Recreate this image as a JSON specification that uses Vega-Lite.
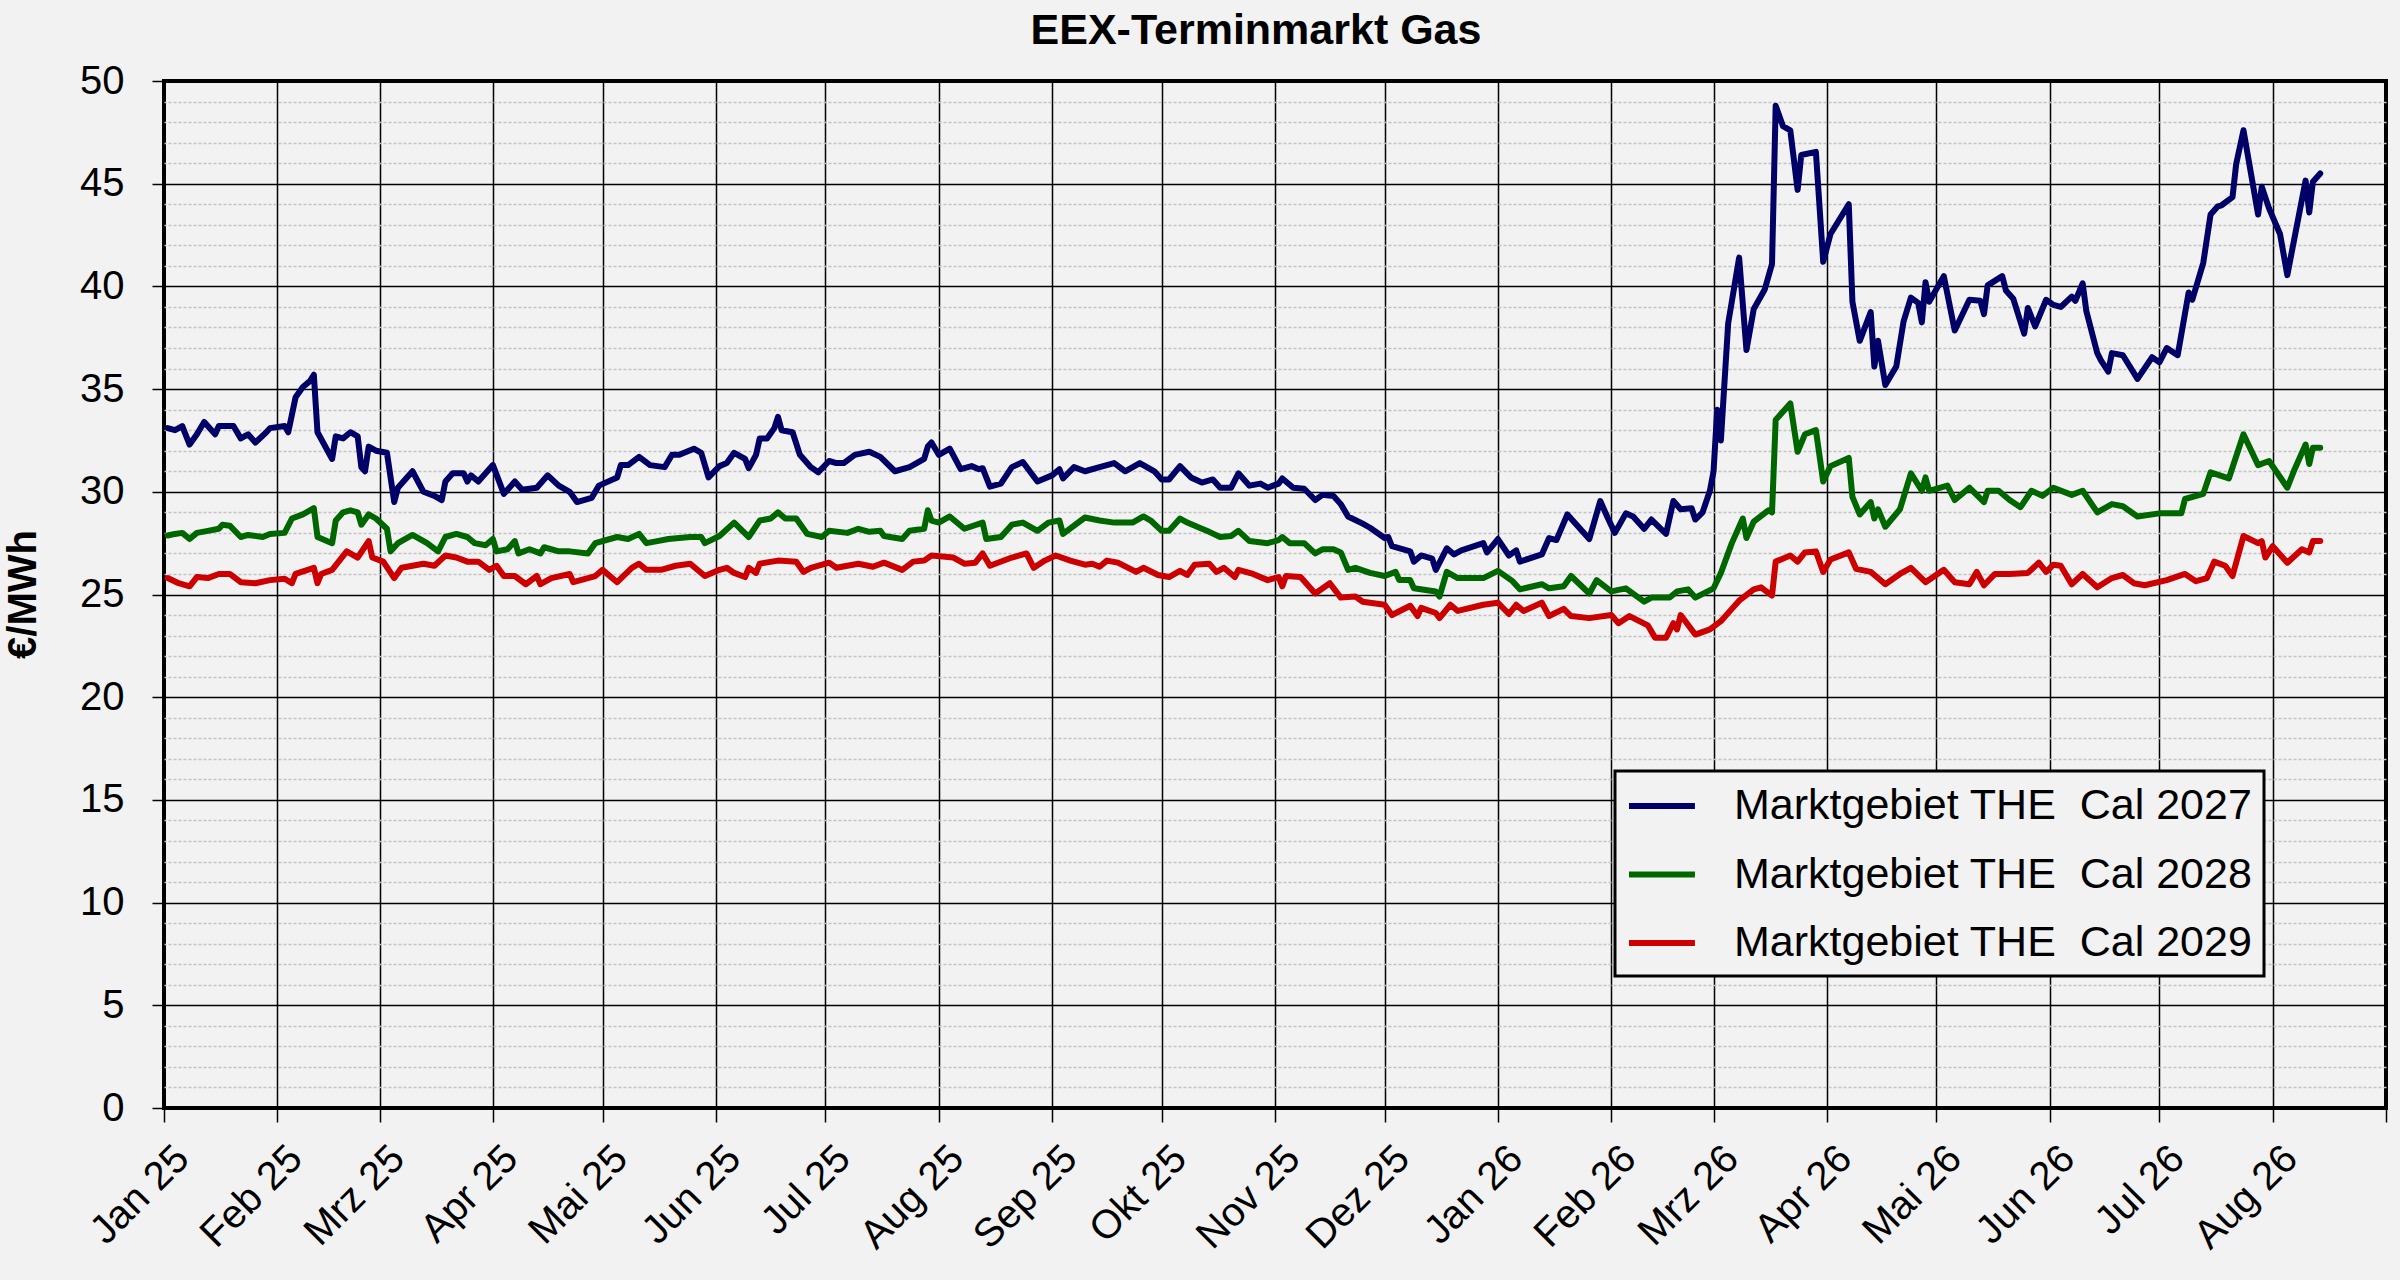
{
  "$schema": "https://vega.github.io/schema/vega-lite/v6.json",
  "width": 2222,
  "height": 1027,
  "autosize": {"type": "none"},
  "padding": {"left": 164, "top": 81, "right": 14, "bottom": 172},
  "background": "#f2f2f2",
  "title": {"text": "EEX-Terminmarkt Gas", "fontSize": 43, "fontWeight": "bold", "color": "black", "anchor": "middle", "frame": "group", "offset": -26, "baseline": "alphabetic", "dx": -19},
  "data": {"values": [
    {"datum":"2025-01-02","kontrakt":"2027","preis":33.1},{"datum":"2025-01-04","kontrakt":"2027","preis":33.0},{"datum":"2025-01-06","kontrakt":"2027","preis":33.2},{"datum":"2025-01-08","kontrakt":"2027","preis":32.3},{"datum":"2025-01-10","kontrakt":"2027","preis":32.8},{"datum":"2025-01-12","kontrakt":"2027","preis":33.4},{"datum":"2025-01-15","kontrakt":"2027","preis":32.8},{"datum":"2025-01-16","kontrakt":"2027","preis":33.2},{"datum":"2025-01-20","kontrakt":"2027","preis":33.2},{"datum":"2025-01-22","kontrakt":"2027","preis":32.6},{"datum":"2025-01-24","kontrakt":"2027","preis":32.8},{"datum":"2025-01-26","kontrakt":"2027","preis":32.4},{"datum":"2025-01-29","kontrakt":"2027","preis":32.9},{"datum":"2025-01-30","kontrakt":"2027","preis":33.1},
    {"datum":"2025-02-03","kontrakt":"2027","preis":33.2},{"datum":"2025-02-04","kontrakt":"2027","preis":32.9},{"datum":"2025-02-06","kontrakt":"2027","preis":34.6},{"datum":"2025-02-08","kontrakt":"2027","preis":35.1},{"datum":"2025-02-10","kontrakt":"2027","preis":35.4},{"datum":"2025-02-11","kontrakt":"2027","preis":35.7},{"datum":"2025-02-12","kontrakt":"2027","preis":32.9},{"datum":"2025-02-16","kontrakt":"2027","preis":31.6},{"datum":"2025-02-17","kontrakt":"2027","preis":32.7},{"datum":"2025-02-19","kontrakt":"2027","preis":32.6},{"datum":"2025-02-21","kontrakt":"2027","preis":32.9},{"datum":"2025-02-23","kontrakt":"2027","preis":32.7},{"datum":"2025-02-24","kontrakt":"2027","preis":31.2},{"datum":"2025-02-25","kontrakt":"2027","preis":31.0},{"datum":"2025-02-26","kontrakt":"2027","preis":32.2},{"datum":"2025-02-28","kontrakt":"2027","preis":32.0},
    {"datum":"2025-03-03","kontrakt":"2027","preis":31.9},{"datum":"2025-03-05","kontrakt":"2027","preis":29.5},{"datum":"2025-03-06","kontrakt":"2027","preis":30.2},{"datum":"2025-03-10","kontrakt":"2027","preis":31.0},{"datum":"2025-03-13","kontrakt":"2027","preis":30.0},{"datum":"2025-03-16","kontrakt":"2027","preis":29.8},{"datum":"2025-03-18","kontrakt":"2027","preis":29.6},{"datum":"2025-03-19","kontrakt":"2027","preis":30.5},{"datum":"2025-03-21","kontrakt":"2027","preis":30.9},{"datum":"2025-03-24","kontrakt":"2027","preis":30.9},{"datum":"2025-03-25","kontrakt":"2027","preis":30.5},{"datum":"2025-03-26","kontrakt":"2027","preis":30.8},{"datum":"2025-03-28","kontrakt":"2027","preis":30.5},
    {"datum":"2025-04-01","kontrakt":"2027","preis":31.3},{"datum":"2025-04-04","kontrakt":"2027","preis":29.9},{"datum":"2025-04-07","kontrakt":"2027","preis":30.5},{"datum":"2025-04-09","kontrakt":"2027","preis":30.1},{"datum":"2025-04-13","kontrakt":"2027","preis":30.2},{"datum":"2025-04-16","kontrakt":"2027","preis":30.8},{"datum":"2025-04-19","kontrakt":"2027","preis":30.3},{"datum":"2025-04-22","kontrakt":"2027","preis":30.0},{"datum":"2025-04-24","kontrakt":"2027","preis":29.5},{"datum":"2025-04-28","kontrakt":"2027","preis":29.7},{"datum":"2025-04-30","kontrakt":"2027","preis":30.3},
    {"datum":"2025-05-05","kontrakt":"2027","preis":30.7},{"datum":"2025-05-06","kontrakt":"2027","preis":31.3},{"datum":"2025-05-08","kontrakt":"2027","preis":31.3},{"datum":"2025-05-11","kontrakt":"2027","preis":31.7},{"datum":"2025-05-14","kontrakt":"2027","preis":31.3},{"datum":"2025-05-18","kontrakt":"2027","preis":31.2},{"datum":"2025-05-20","kontrakt":"2027","preis":31.8},{"datum":"2025-05-22","kontrakt":"2027","preis":31.8},{"datum":"2025-05-26","kontrakt":"2027","preis":32.1},{"datum":"2025-05-28","kontrakt":"2027","preis":31.9},{"datum":"2025-05-30","kontrakt":"2027","preis":30.7},
    {"datum":"2025-06-02","kontrakt":"2027","preis":31.25},{"datum":"2025-06-04","kontrakt":"2027","preis":31.4},{"datum":"2025-06-06","kontrakt":"2027","preis":31.9},{"datum":"2025-06-09","kontrakt":"2027","preis":31.6},{"datum":"2025-06-10","kontrakt":"2027","preis":31.15},{"datum":"2025-06-12","kontrakt":"2027","preis":31.8},{"datum":"2025-06-13","kontrakt":"2027","preis":32.6},{"datum":"2025-06-15","kontrakt":"2027","preis":32.6},{"datum":"2025-06-17","kontrakt":"2027","preis":33.1},{"datum":"2025-06-18","kontrakt":"2027","preis":33.65},{"datum":"2025-06-19","kontrakt":"2027","preis":33.0},{"datum":"2025-06-22","kontrakt":"2027","preis":32.9},{"datum":"2025-06-24","kontrakt":"2027","preis":31.8},{"datum":"2025-06-27","kontrakt":"2027","preis":31.2},{"datum":"2025-06-29","kontrakt":"2027","preis":30.95},
    {"datum":"2025-07-02","kontrakt":"2027","preis":31.5},{"datum":"2025-07-04","kontrakt":"2027","preis":31.4},{"datum":"2025-07-06","kontrakt":"2027","preis":31.4},{"datum":"2025-07-09","kontrakt":"2027","preis":31.8},{"datum":"2025-07-13","kontrakt":"2027","preis":31.95},{"datum":"2025-07-16","kontrakt":"2027","preis":31.7},{"datum":"2025-07-20","kontrakt":"2027","preis":31.0},{"datum":"2025-07-24","kontrakt":"2027","preis":31.2},{"datum":"2025-07-28","kontrakt":"2027","preis":31.6},{"datum":"2025-07-29","kontrakt":"2027","preis":32.2},{"datum":"2025-07-30","kontrakt":"2027","preis":32.4},
    {"datum":"2025-08-01","kontrakt":"2027","preis":31.8},{"datum":"2025-08-04","kontrakt":"2027","preis":32.1},{"datum":"2025-08-07","kontrakt":"2027","preis":31.1},{"datum":"2025-08-10","kontrakt":"2027","preis":31.25},{"datum":"2025-08-12","kontrakt":"2027","preis":31.1},{"datum":"2025-08-13","kontrakt":"2027","preis":31.15},{"datum":"2025-08-15","kontrakt":"2027","preis":30.25},{"datum":"2025-08-18","kontrakt":"2027","preis":30.4},{"datum":"2025-08-21","kontrakt":"2027","preis":31.2},{"datum":"2025-08-24","kontrakt":"2027","preis":31.45},{"datum":"2025-08-28","kontrakt":"2027","preis":30.5},
    {"datum":"2025-09-01","kontrakt":"2027","preis":30.8},{"datum":"2025-09-03","kontrakt":"2027","preis":31.1},{"datum":"2025-09-04","kontrakt":"2027","preis":30.65},{"datum":"2025-09-07","kontrakt":"2027","preis":31.2},{"datum":"2025-09-10","kontrakt":"2027","preis":31.0},{"datum":"2025-09-14","kontrakt":"2027","preis":31.2},{"datum":"2025-09-18","kontrakt":"2027","preis":31.4},{"datum":"2025-09-21","kontrakt":"2027","preis":31.0},{"datum":"2025-09-25","kontrakt":"2027","preis":31.4},{"datum":"2025-09-29","kontrakt":"2027","preis":31.0},
    {"datum":"2025-10-01","kontrakt":"2027","preis":30.6},{"datum":"2025-10-03","kontrakt":"2027","preis":30.6},{"datum":"2025-10-06","kontrakt":"2027","preis":31.25},{"datum":"2025-10-09","kontrakt":"2027","preis":30.7},{"datum":"2025-10-12","kontrakt":"2027","preis":30.45},{"datum":"2025-10-15","kontrakt":"2027","preis":30.6},{"datum":"2025-10-17","kontrakt":"2027","preis":30.2},{"datum":"2025-10-20","kontrakt":"2027","preis":30.2},{"datum":"2025-10-22","kontrakt":"2027","preis":30.9},{"datum":"2025-10-25","kontrakt":"2027","preis":30.3},{"datum":"2025-10-28","kontrakt":"2027","preis":30.4},{"datum":"2025-10-30","kontrakt":"2027","preis":30.2},
    {"datum":"2025-11-02","kontrakt":"2027","preis":30.4},{"datum":"2025-11-03","kontrakt":"2027","preis":30.65},{"datum":"2025-11-06","kontrakt":"2027","preis":30.2},{"datum":"2025-11-09","kontrakt":"2027","preis":30.15},{"datum":"2025-11-12","kontrakt":"2027","preis":29.6},{"datum":"2025-11-14","kontrakt":"2027","preis":29.85},{"datum":"2025-11-17","kontrakt":"2027","preis":29.8},{"datum":"2025-11-19","kontrakt":"2027","preis":29.4},{"datum":"2025-11-21","kontrakt":"2027","preis":28.8},{"datum":"2025-11-25","kontrakt":"2027","preis":28.45},{"datum":"2025-11-27","kontrakt":"2027","preis":28.25},
    {"datum":"2025-12-01","kontrakt":"2027","preis":27.75},{"datum":"2025-12-02","kontrakt":"2027","preis":27.8},{"datum":"2025-12-03","kontrakt":"2027","preis":27.35},{"datum":"2025-12-08","kontrakt":"2027","preis":27.1},{"datum":"2025-12-09","kontrakt":"2027","preis":26.6},{"datum":"2025-12-11","kontrakt":"2027","preis":26.9},{"datum":"2025-12-14","kontrakt":"2027","preis":26.75},{"datum":"2025-12-15","kontrakt":"2027","preis":26.2},{"datum":"2025-12-18","kontrakt":"2027","preis":27.25},{"datum":"2025-12-20","kontrakt":"2027","preis":26.95},{"datum":"2025-12-22","kontrakt":"2027","preis":27.15},{"datum":"2025-12-28","kontrakt":"2027","preis":27.5},{"datum":"2025-12-29","kontrakt":"2027","preis":27.05},
    {"datum":"2026-01-01","kontrakt":"2027","preis":27.7},{"datum":"2026-01-04","kontrakt":"2027","preis":26.9},{"datum":"2026-01-06","kontrakt":"2027","preis":27.15},{"datum":"2026-01-07","kontrakt":"2027","preis":26.6},{"datum":"2026-01-13","kontrakt":"2027","preis":26.95},{"datum":"2026-01-15","kontrakt":"2027","preis":27.75},{"datum":"2026-01-17","kontrakt":"2027","preis":27.65},{"datum":"2026-01-20","kontrakt":"2027","preis":28.9},{"datum":"2026-01-26","kontrakt":"2027","preis":27.7},{"datum":"2026-01-29","kontrakt":"2027","preis":29.55},{"datum":"2026-01-31","kontrakt":"2027","preis":28.75},
    {"datum":"2026-02-02","kontrakt":"2027","preis":28.0},{"datum":"2026-02-05","kontrakt":"2027","preis":28.95},{"datum":"2026-02-07","kontrakt":"2027","preis":28.8},{"datum":"2026-02-10","kontrakt":"2027","preis":28.2},{"datum":"2026-02-12","kontrakt":"2027","preis":28.65},{"datum":"2026-02-16","kontrakt":"2027","preis":27.95},{"datum":"2026-02-18","kontrakt":"2027","preis":29.55},{"datum":"2026-02-20","kontrakt":"2027","preis":29.15},{"datum":"2026-02-23","kontrakt":"2027","preis":29.2},{"datum":"2026-02-24","kontrakt":"2027","preis":28.65},{"datum":"2026-02-26","kontrakt":"2027","preis":29.0},{"datum":"2026-02-28","kontrakt":"2027","preis":30.05},
    {"datum":"2026-03-01","kontrakt":"2027","preis":31.0},{"datum":"2026-03-02","kontrakt":"2027","preis":34.0},{"datum":"2026-03-03","kontrakt":"2027","preis":32.5},{"datum":"2026-03-05","kontrakt":"2027","preis":38.2},{"datum":"2026-03-08","kontrakt":"2027","preis":41.4},{"datum":"2026-03-10","kontrakt":"2027","preis":36.9},{"datum":"2026-03-12","kontrakt":"2027","preis":38.9},{"datum":"2026-03-15","kontrakt":"2027","preis":39.85},{"datum":"2026-03-17","kontrakt":"2027","preis":41.1},{"datum":"2026-03-18","kontrakt":"2027","preis":48.8},{"datum":"2026-03-20","kontrakt":"2027","preis":47.8},{"datum":"2026-03-22","kontrakt":"2027","preis":47.6},{"datum":"2026-03-24","kontrakt":"2027","preis":44.7},{"datum":"2026-03-25","kontrakt":"2027","preis":46.4},{"datum":"2026-03-29","kontrakt":"2027","preis":46.55},{"datum":"2026-03-31","kontrakt":"2027","preis":41.2},
    {"datum":"2026-04-02","kontrakt":"2027","preis":42.55},{"datum":"2026-04-07","kontrakt":"2027","preis":44.0},{"datum":"2026-04-08","kontrakt":"2027","preis":39.25},{"datum":"2026-04-10","kontrakt":"2027","preis":37.35},{"datum":"2026-04-13","kontrakt":"2027","preis":38.75},{"datum":"2026-04-14","kontrakt":"2027","preis":36.1},{"datum":"2026-04-15","kontrakt":"2027","preis":37.35},{"datum":"2026-04-17","kontrakt":"2027","preis":35.2},{"datum":"2026-04-20","kontrakt":"2027","preis":36.1},{"datum":"2026-04-22","kontrakt":"2027","preis":38.3},{"datum":"2026-04-24","kontrakt":"2027","preis":39.45},{"datum":"2026-04-26","kontrakt":"2027","preis":39.2},{"datum":"2026-04-27","kontrakt":"2027","preis":38.25},{"datum":"2026-04-28","kontrakt":"2027","preis":40.2},{"datum":"2026-04-29","kontrakt":"2027","preis":39.25},
    {"datum":"2026-05-03","kontrakt":"2027","preis":40.5},{"datum":"2026-05-06","kontrakt":"2027","preis":37.85},{"datum":"2026-05-10","kontrakt":"2027","preis":39.35},{"datum":"2026-05-13","kontrakt":"2027","preis":39.3},{"datum":"2026-05-14","kontrakt":"2027","preis":38.65},{"datum":"2026-05-15","kontrakt":"2027","preis":40.05},{"datum":"2026-05-19","kontrakt":"2027","preis":40.5},{"datum":"2026-05-20","kontrakt":"2027","preis":39.8},{"datum":"2026-05-22","kontrakt":"2027","preis":39.4},{"datum":"2026-05-25","kontrakt":"2027","preis":37.7},{"datum":"2026-05-26","kontrakt":"2027","preis":38.95},{"datum":"2026-05-28","kontrakt":"2027","preis":38.05},{"datum":"2026-05-31","kontrakt":"2027","preis":39.35},
    {"datum":"2026-06-02","kontrakt":"2027","preis":39.1},{"datum":"2026-06-04","kontrakt":"2027","preis":39.0},{"datum":"2026-06-07","kontrakt":"2027","preis":39.5},{"datum":"2026-06-08","kontrakt":"2027","preis":39.3},{"datum":"2026-06-10","kontrakt":"2027","preis":40.15},{"datum":"2026-06-11","kontrakt":"2027","preis":38.8},{"datum":"2026-06-14","kontrakt":"2027","preis":36.75},{"datum":"2026-06-15","kontrakt":"2027","preis":36.4},{"datum":"2026-06-17","kontrakt":"2027","preis":35.85},{"datum":"2026-06-18","kontrakt":"2027","preis":36.75},{"datum":"2026-06-21","kontrakt":"2027","preis":36.65},{"datum":"2026-06-25","kontrakt":"2027","preis":35.5},{"datum":"2026-06-29","kontrakt":"2027","preis":36.55},
    {"datum":"2026-07-01","kontrakt":"2027","preis":36.3},{"datum":"2026-07-03","kontrakt":"2027","preis":37.0},{"datum":"2026-07-06","kontrakt":"2027","preis":36.65},{"datum":"2026-07-09","kontrakt":"2027","preis":39.7},{"datum":"2026-07-10","kontrakt":"2027","preis":39.35},{"datum":"2026-07-13","kontrakt":"2027","preis":41.15},{"datum":"2026-07-15","kontrakt":"2027","preis":43.5},{"datum":"2026-07-17","kontrakt":"2027","preis":43.9},{"datum":"2026-07-18","kontrakt":"2027","preis":43.95},{"datum":"2026-07-21","kontrakt":"2027","preis":44.35},{"datum":"2026-07-22","kontrakt":"2027","preis":45.95},{"datum":"2026-07-24","kontrakt":"2027","preis":47.6},{"datum":"2026-07-28","kontrakt":"2027","preis":43.5},{"datum":"2026-07-29","kontrakt":"2027","preis":44.85},{"datum":"2026-07-31","kontrakt":"2027","preis":43.8},
    {"datum":"2026-08-03","kontrakt":"2027","preis":42.55},{"datum":"2026-08-05","kontrakt":"2027","preis":40.55},{"datum":"2026-08-07","kontrakt":"2027","preis":42.4},{"datum":"2026-08-10","kontrakt":"2027","preis":45.15},{"datum":"2026-08-11","kontrakt":"2027","preis":43.6},{"datum":"2026-08-12","kontrakt":"2027","preis":45.1},{"datum":"2026-08-14","kontrakt":"2027","preis":45.5},

    {"datum":"2025-01-02","kontrakt":"2028","preis":27.87},{"datum":"2025-01-04","kontrakt":"2028","preis":27.95},{"datum":"2025-01-06","kontrakt":"2028","preis":28.0},{"datum":"2025-01-08","kontrakt":"2028","preis":27.7},{"datum":"2025-01-10","kontrakt":"2028","preis":28.0},{"datum":"2025-01-13","kontrakt":"2028","preis":28.1},{"datum":"2025-01-16","kontrakt":"2028","preis":28.2},{"datum":"2025-01-17","kontrakt":"2028","preis":28.4},{"datum":"2025-01-19","kontrakt":"2028","preis":28.35},{"datum":"2025-01-22","kontrakt":"2028","preis":27.8},{"datum":"2025-01-24","kontrakt":"2028","preis":27.9},{"datum":"2025-01-28","kontrakt":"2028","preis":27.8},{"datum":"2025-01-30","kontrakt":"2028","preis":27.95},
    {"datum":"2025-02-03","kontrakt":"2028","preis":28.0},{"datum":"2025-02-05","kontrakt":"2028","preis":28.7},{"datum":"2025-02-08","kontrakt":"2028","preis":28.9},{"datum":"2025-02-11","kontrakt":"2028","preis":29.2},{"datum":"2025-02-12","kontrakt":"2028","preis":27.8},{"datum":"2025-02-16","kontrakt":"2028","preis":27.5},{"datum":"2025-02-17","kontrakt":"2028","preis":28.6},{"datum":"2025-02-19","kontrakt":"2028","preis":29.0},{"datum":"2025-02-21","kontrakt":"2028","preis":29.1},{"datum":"2025-02-23","kontrakt":"2028","preis":29.0},{"datum":"2025-02-24","kontrakt":"2028","preis":28.4},{"datum":"2025-02-26","kontrakt":"2028","preis":28.9},{"datum":"2025-02-28","kontrakt":"2028","preis":28.7},
    {"datum":"2025-03-03","kontrakt":"2028","preis":28.2},{"datum":"2025-03-04","kontrakt":"2028","preis":27.1},{"datum":"2025-03-06","kontrakt":"2028","preis":27.5},{"datum":"2025-03-10","kontrakt":"2028","preis":27.9},{"datum":"2025-03-14","kontrakt":"2028","preis":27.5},{"datum":"2025-03-17","kontrakt":"2028","preis":27.1},{"datum":"2025-03-19","kontrakt":"2028","preis":27.8},{"datum":"2025-03-22","kontrakt":"2028","preis":27.95},{"datum":"2025-03-25","kontrakt":"2028","preis":27.8},{"datum":"2025-03-27","kontrakt":"2028","preis":27.5},{"datum":"2025-03-30","kontrakt":"2028","preis":27.4},
    {"datum":"2025-04-01","kontrakt":"2028","preis":27.7},{"datum":"2025-04-02","kontrakt":"2028","preis":27.1},{"datum":"2025-04-05","kontrakt":"2028","preis":27.2},{"datum":"2025-04-07","kontrakt":"2028","preis":27.6},{"datum":"2025-04-08","kontrakt":"2028","preis":27.0},{"datum":"2025-04-11","kontrakt":"2028","preis":27.2},{"datum":"2025-04-14","kontrakt":"2028","preis":27.0},{"datum":"2025-04-15","kontrakt":"2028","preis":27.3},{"datum":"2025-04-19","kontrakt":"2028","preis":27.1},{"datum":"2025-04-22","kontrakt":"2028","preis":27.1},{"datum":"2025-04-27","kontrakt":"2028","preis":27.0},{"datum":"2025-04-29","kontrakt":"2028","preis":27.5},
    {"datum":"2025-05-05","kontrakt":"2028","preis":27.8},{"datum":"2025-05-08","kontrakt":"2028","preis":27.7},{"datum":"2025-05-11","kontrakt":"2028","preis":27.95},{"datum":"2025-05-13","kontrakt":"2028","preis":27.5},{"datum":"2025-05-16","kontrakt":"2028","preis":27.6},{"datum":"2025-05-19","kontrakt":"2028","preis":27.7},{"datum":"2025-05-25","kontrakt":"2028","preis":27.8},{"datum":"2025-05-28","kontrakt":"2028","preis":27.8},{"datum":"2025-05-29","kontrakt":"2028","preis":27.5},
    {"datum":"2025-06-02","kontrakt":"2028","preis":27.85},{"datum":"2025-06-06","kontrakt":"2028","preis":28.5},{"datum":"2025-06-10","kontrakt":"2028","preis":27.8},{"datum":"2025-06-13","kontrakt":"2028","preis":28.6},{"datum":"2025-06-16","kontrakt":"2028","preis":28.7},{"datum":"2025-06-18","kontrakt":"2028","preis":29.0},{"datum":"2025-06-20","kontrakt":"2028","preis":28.7},{"datum":"2025-06-23","kontrakt":"2028","preis":28.7},{"datum":"2025-06-26","kontrakt":"2028","preis":27.95},{"datum":"2025-06-30","kontrakt":"2028","preis":27.8},
    {"datum":"2025-07-02","kontrakt":"2028","preis":28.1},{"datum":"2025-07-07","kontrakt":"2028","preis":28.0},{"datum":"2025-07-10","kontrakt":"2028","preis":28.2},{"datum":"2025-07-13","kontrakt":"2028","preis":28.05},{"datum":"2025-07-16","kontrakt":"2028","preis":28.1},{"datum":"2025-07-17","kontrakt":"2028","preis":27.85},{"datum":"2025-07-22","kontrakt":"2028","preis":27.7},{"datum":"2025-07-24","kontrakt":"2028","preis":28.1},{"datum":"2025-07-28","kontrakt":"2028","preis":28.2},{"datum":"2025-07-29","kontrakt":"2028","preis":29.1},{"datum":"2025-07-30","kontrakt":"2028","preis":28.6},
    {"datum":"2025-08-01","kontrakt":"2028","preis":28.5},{"datum":"2025-08-04","kontrakt":"2028","preis":28.8},{"datum":"2025-08-08","kontrakt":"2028","preis":28.2},{"datum":"2025-08-13","kontrakt":"2028","preis":28.5},{"datum":"2025-08-14","kontrakt":"2028","preis":27.7},{"datum":"2025-08-18","kontrakt":"2028","preis":27.8},{"datum":"2025-08-21","kontrakt":"2028","preis":28.4},{"datum":"2025-08-24","kontrakt":"2028","preis":28.5},{"datum":"2025-08-28","kontrakt":"2028","preis":28.1},{"datum":"2025-08-31","kontrakt":"2028","preis":28.5},
    {"datum":"2025-09-03","kontrakt":"2028","preis":28.6},{"datum":"2025-09-04","kontrakt":"2028","preis":27.95},{"datum":"2025-09-10","kontrakt":"2028","preis":28.75},{"datum":"2025-09-14","kontrakt":"2028","preis":28.6},{"datum":"2025-09-18","kontrakt":"2028","preis":28.5},{"datum":"2025-09-23","kontrakt":"2028","preis":28.5},{"datum":"2025-09-26","kontrakt":"2028","preis":28.8},{"datum":"2025-09-28","kontrakt":"2028","preis":28.6},
    {"datum":"2025-10-01","kontrakt":"2028","preis":28.1},{"datum":"2025-10-03","kontrakt":"2028","preis":28.1},{"datum":"2025-10-06","kontrakt":"2028","preis":28.7},{"datum":"2025-10-08","kontrakt":"2028","preis":28.5},{"datum":"2025-10-12","kontrakt":"2028","preis":28.2},{"datum":"2025-10-14","kontrakt":"2028","preis":28.05},{"datum":"2025-10-17","kontrakt":"2028","preis":27.8},{"datum":"2025-10-20","kontrakt":"2028","preis":27.85},{"datum":"2025-10-22","kontrakt":"2028","preis":28.1},{"datum":"2025-10-25","kontrakt":"2028","preis":27.6},{"datum":"2025-10-30","kontrakt":"2028","preis":27.5},
    {"datum":"2025-11-02","kontrakt":"2028","preis":27.65},{"datum":"2025-11-03","kontrakt":"2028","preis":27.8},{"datum":"2025-11-05","kontrakt":"2028","preis":27.5},{"datum":"2025-11-09","kontrakt":"2028","preis":27.5},{"datum":"2025-11-12","kontrakt":"2028","preis":27.0},{"datum":"2025-11-14","kontrakt":"2028","preis":27.2},{"datum":"2025-11-17","kontrakt":"2028","preis":27.2},{"datum":"2025-11-19","kontrakt":"2028","preis":27.05},{"datum":"2025-11-21","kontrakt":"2028","preis":26.2},{"datum":"2025-11-23","kontrakt":"2028","preis":26.3},{"datum":"2025-11-27","kontrakt":"2028","preis":26.05},
    {"datum":"2025-12-01","kontrakt":"2028","preis":25.9},{"datum":"2025-12-04","kontrakt":"2028","preis":26.1},{"datum":"2025-12-05","kontrakt":"2028","preis":25.7},{"datum":"2025-12-08","kontrakt":"2028","preis":25.7},{"datum":"2025-12-09","kontrakt":"2028","preis":25.3},{"datum":"2025-12-15","kontrakt":"2028","preis":25.15},{"datum":"2025-12-16","kontrakt":"2028","preis":24.9},{"datum":"2025-12-18","kontrakt":"2028","preis":26.1},{"datum":"2025-12-21","kontrakt":"2028","preis":25.8},{"datum":"2025-12-28","kontrakt":"2028","preis":25.8},
    {"datum":"2026-01-01","kontrakt":"2028","preis":26.15},{"datum":"2026-01-05","kontrakt":"2028","preis":25.65},{"datum":"2026-01-07","kontrakt":"2028","preis":25.25},{"datum":"2026-01-13","kontrakt":"2028","preis":25.5},{"datum":"2026-01-15","kontrakt":"2028","preis":25.3},{"datum":"2026-01-19","kontrakt":"2028","preis":25.4},{"datum":"2026-01-21","kontrakt":"2028","preis":25.9},{"datum":"2026-01-26","kontrakt":"2028","preis":25.05},{"datum":"2026-01-28","kontrakt":"2028","preis":25.7},
    {"datum":"2026-02-01","kontrakt":"2028","preis":25.15},{"datum":"2026-02-05","kontrakt":"2028","preis":25.3},{"datum":"2026-02-10","kontrakt":"2028","preis":24.65},{"datum":"2026-02-12","kontrakt":"2028","preis":24.85},{"datum":"2026-02-17","kontrakt":"2028","preis":24.85},{"datum":"2026-02-19","kontrakt":"2028","preis":25.15},{"datum":"2026-02-22","kontrakt":"2028","preis":25.25},{"datum":"2026-02-24","kontrakt":"2028","preis":24.85},
    {"datum":"2026-03-01","kontrakt":"2028","preis":25.3},{"datum":"2026-03-03","kontrakt":"2028","preis":26.05},{"datum":"2026-03-06","kontrakt":"2028","preis":27.5},{"datum":"2026-03-09","kontrakt":"2028","preis":28.7},{"datum":"2026-03-10","kontrakt":"2028","preis":27.75},{"datum":"2026-03-12","kontrakt":"2028","preis":28.55},{"datum":"2026-03-16","kontrakt":"2028","preis":29.1},{"datum":"2026-03-17","kontrakt":"2028","preis":29.0},{"datum":"2026-03-18","kontrakt":"2028","preis":33.5},{"datum":"2026-03-22","kontrakt":"2028","preis":34.3},{"datum":"2026-03-24","kontrakt":"2028","preis":31.95},{"datum":"2026-03-26","kontrakt":"2028","preis":32.8},{"datum":"2026-03-29","kontrakt":"2028","preis":33.0},{"datum":"2026-03-31","kontrakt":"2028","preis":30.5},
    {"datum":"2026-04-02","kontrakt":"2028","preis":31.25},{"datum":"2026-04-07","kontrakt":"2028","preis":31.65},{"datum":"2026-04-08","kontrakt":"2028","preis":29.75},{"datum":"2026-04-10","kontrakt":"2028","preis":28.9},{"datum":"2026-04-13","kontrakt":"2028","preis":29.5},{"datum":"2026-04-14","kontrakt":"2028","preis":28.7},{"datum":"2026-04-15","kontrakt":"2028","preis":29.15},{"datum":"2026-04-17","kontrakt":"2028","preis":28.3},{"datum":"2026-04-21","kontrakt":"2028","preis":29.15},{"datum":"2026-04-24","kontrakt":"2028","preis":30.9},{"datum":"2026-04-27","kontrakt":"2028","preis":30.05},{"datum":"2026-04-28","kontrakt":"2028","preis":30.7},{"datum":"2026-04-29","kontrakt":"2028","preis":30.05},
    {"datum":"2026-05-04","kontrakt":"2028","preis":30.3},{"datum":"2026-05-06","kontrakt":"2028","preis":29.6},{"datum":"2026-05-10","kontrakt":"2028","preis":30.2},{"datum":"2026-05-14","kontrakt":"2028","preis":29.5},{"datum":"2026-05-15","kontrakt":"2028","preis":30.05},{"datum":"2026-05-18","kontrakt":"2028","preis":30.05},{"datum":"2026-05-21","kontrakt":"2028","preis":29.6},{"datum":"2026-05-24","kontrakt":"2028","preis":29.25},{"datum":"2026-05-27","kontrakt":"2028","preis":30.05},{"datum":"2026-05-30","kontrakt":"2028","preis":29.8},
    {"datum":"2026-06-02","kontrakt":"2028","preis":30.2},{"datum":"2026-06-07","kontrakt":"2028","preis":29.85},{"datum":"2026-06-10","kontrakt":"2028","preis":30.05},{"datum":"2026-06-14","kontrakt":"2028","preis":29.0},{"datum":"2026-06-18","kontrakt":"2028","preis":29.4},{"datum":"2026-06-21","kontrakt":"2028","preis":29.3},{"datum":"2026-06-25","kontrakt":"2028","preis":28.8},
    {"datum":"2026-07-01","kontrakt":"2028","preis":28.95},{"datum":"2026-07-07","kontrakt":"2028","preis":28.95},{"datum":"2026-07-08","kontrakt":"2028","preis":29.65},{"datum":"2026-07-13","kontrakt":"2028","preis":29.9},{"datum":"2026-07-15","kontrakt":"2028","preis":30.95},{"datum":"2026-07-20","kontrakt":"2028","preis":30.65},{"datum":"2026-07-24","kontrakt":"2028","preis":32.8},{"datum":"2026-07-28","kontrakt":"2028","preis":31.3},{"datum":"2026-07-31","kontrakt":"2028","preis":31.5},
    {"datum":"2026-08-05","kontrakt":"2028","preis":30.2},{"datum":"2026-08-07","kontrakt":"2028","preis":31.1},{"datum":"2026-08-10","kontrakt":"2028","preis":32.3},{"datum":"2026-08-11","kontrakt":"2028","preis":31.35},{"datum":"2026-08-12","kontrakt":"2028","preis":32.15},{"datum":"2026-08-14","kontrakt":"2028","preis":32.15},

    {"datum":"2025-01-02","kontrakt":"2029","preis":25.8},{"datum":"2025-01-05","kontrakt":"2029","preis":25.55},{"datum":"2025-01-08","kontrakt":"2029","preis":25.4},{"datum":"2025-01-10","kontrakt":"2029","preis":25.85},{"datum":"2025-01-13","kontrakt":"2029","preis":25.8},{"datum":"2025-01-16","kontrakt":"2029","preis":26.0},{"datum":"2025-01-19","kontrakt":"2029","preis":26.0},{"datum":"2025-01-22","kontrakt":"2029","preis":25.6},{"datum":"2025-01-26","kontrakt":"2029","preis":25.55},{"datum":"2025-01-30","kontrakt":"2029","preis":25.7},
    {"datum":"2025-02-03","kontrakt":"2029","preis":25.77},{"datum":"2025-02-05","kontrakt":"2029","preis":25.55},{"datum":"2025-02-06","kontrakt":"2029","preis":26.0},{"datum":"2025-02-11","kontrakt":"2029","preis":26.3},{"datum":"2025-02-12","kontrakt":"2029","preis":25.55},{"datum":"2025-02-13","kontrakt":"2029","preis":26.0},{"datum":"2025-02-16","kontrakt":"2029","preis":26.2},{"datum":"2025-02-20","kontrakt":"2029","preis":27.1},{"datum":"2025-02-23","kontrakt":"2029","preis":26.8},{"datum":"2025-02-26","kontrakt":"2029","preis":27.6},{"datum":"2025-02-27","kontrakt":"2029","preis":26.8},
    {"datum":"2025-03-02","kontrakt":"2029","preis":26.6},{"datum":"2025-03-05","kontrakt":"2029","preis":25.8},{"datum":"2025-03-07","kontrakt":"2029","preis":26.3},{"datum":"2025-03-10","kontrakt":"2029","preis":26.4},{"datum":"2025-03-13","kontrakt":"2029","preis":26.5},{"datum":"2025-03-16","kontrakt":"2029","preis":26.4},{"datum":"2025-03-19","kontrakt":"2029","preis":26.9},{"datum":"2025-03-22","kontrakt":"2029","preis":26.8},{"datum":"2025-03-25","kontrakt":"2029","preis":26.6},{"datum":"2025-03-28","kontrakt":"2029","preis":26.6},{"datum":"2025-03-31","kontrakt":"2029","preis":26.2},
    {"datum":"2025-04-02","kontrakt":"2029","preis":26.4},{"datum":"2025-04-04","kontrakt":"2029","preis":25.9},{"datum":"2025-04-07","kontrakt":"2029","preis":25.9},{"datum":"2025-04-10","kontrakt":"2029","preis":25.5},{"datum":"2025-04-13","kontrakt":"2029","preis":25.9},{"datum":"2025-04-14","kontrakt":"2029","preis":25.5},{"datum":"2025-04-17","kontrakt":"2029","preis":25.8},{"datum":"2025-04-22","kontrakt":"2029","preis":26.0},{"datum":"2025-04-23","kontrakt":"2029","preis":25.6},{"datum":"2025-04-29","kontrakt":"2029","preis":25.9},
    {"datum":"2025-05-01","kontrakt":"2029","preis":26.2},{"datum":"2025-05-05","kontrakt":"2029","preis":25.6},{"datum":"2025-05-09","kontrakt":"2029","preis":26.3},{"datum":"2025-05-11","kontrakt":"2029","preis":26.5},{"datum":"2025-05-13","kontrakt":"2029","preis":26.2},{"datum":"2025-05-17","kontrakt":"2029","preis":26.2},{"datum":"2025-05-21","kontrakt":"2029","preis":26.4},{"datum":"2025-05-25","kontrakt":"2029","preis":26.5},{"datum":"2025-05-29","kontrakt":"2029","preis":25.9},
    {"datum":"2025-06-02","kontrakt":"2029","preis":26.2},{"datum":"2025-06-04","kontrakt":"2029","preis":26.3},{"datum":"2025-06-06","kontrakt":"2029","preis":26.05},{"datum":"2025-06-09","kontrakt":"2029","preis":25.85},{"datum":"2025-06-10","kontrakt":"2029","preis":26.3},{"datum":"2025-06-12","kontrakt":"2029","preis":26.05},{"datum":"2025-06-13","kontrakt":"2029","preis":26.5},{"datum":"2025-06-18","kontrakt":"2029","preis":26.65},{"datum":"2025-06-23","kontrakt":"2029","preis":26.6},{"datum":"2025-06-25","kontrakt":"2029","preis":26.1},{"datum":"2025-06-27","kontrakt":"2029","preis":26.3},
    {"datum":"2025-07-02","kontrakt":"2029","preis":26.55},{"datum":"2025-07-04","kontrakt":"2029","preis":26.3},{"datum":"2025-07-10","kontrakt":"2029","preis":26.5},{"datum":"2025-07-14","kontrakt":"2029","preis":26.35},{"datum":"2025-07-17","kontrakt":"2029","preis":26.55},{"datum":"2025-07-22","kontrakt":"2029","preis":26.2},{"datum":"2025-07-25","kontrakt":"2029","preis":26.6},{"datum":"2025-07-28","kontrakt":"2029","preis":26.65},{"datum":"2025-07-30","kontrakt":"2029","preis":26.9},
    {"datum":"2025-08-05","kontrakt":"2029","preis":26.8},{"datum":"2025-08-08","kontrakt":"2029","preis":26.5},{"datum":"2025-08-11","kontrakt":"2029","preis":26.55},{"datum":"2025-08-13","kontrakt":"2029","preis":27.0},{"datum":"2025-08-15","kontrakt":"2029","preis":26.4},{"datum":"2025-08-21","kontrakt":"2029","preis":26.8},{"datum":"2025-08-25","kontrakt":"2029","preis":27.0},{"datum":"2025-08-27","kontrakt":"2029","preis":26.3},{"datum":"2025-08-30","kontrakt":"2029","preis":26.65},
    {"datum":"2025-09-02","kontrakt":"2029","preis":26.9},{"datum":"2025-09-06","kontrakt":"2029","preis":26.65},{"datum":"2025-09-10","kontrakt":"2029","preis":26.45},{"datum":"2025-09-12","kontrakt":"2029","preis":26.5},{"datum":"2025-09-14","kontrakt":"2029","preis":26.35},{"datum":"2025-09-16","kontrakt":"2029","preis":26.65},{"datum":"2025-09-19","kontrakt":"2029","preis":26.55},{"datum":"2025-09-24","kontrakt":"2029","preis":26.1},{"datum":"2025-09-26","kontrakt":"2029","preis":26.3},{"datum":"2025-09-30","kontrakt":"2029","preis":25.95},
    {"datum":"2025-10-03","kontrakt":"2029","preis":25.85},{"datum":"2025-10-06","kontrakt":"2029","preis":26.15},{"datum":"2025-10-08","kontrakt":"2029","preis":25.95},{"datum":"2025-10-10","kontrakt":"2029","preis":26.45},{"datum":"2025-10-14","kontrakt":"2029","preis":26.5},{"datum":"2025-10-16","kontrakt":"2029","preis":26.1},{"datum":"2025-10-18","kontrakt":"2029","preis":26.3},{"datum":"2025-10-21","kontrakt":"2029","preis":25.85},{"datum":"2025-10-22","kontrakt":"2029","preis":26.2},{"datum":"2025-10-26","kontrakt":"2029","preis":26.0},{"datum":"2025-10-30","kontrakt":"2029","preis":25.7},
    {"datum":"2025-11-02","kontrakt":"2029","preis":25.85},{"datum":"2025-11-03","kontrakt":"2029","preis":25.4},{"datum":"2025-11-04","kontrakt":"2029","preis":25.9},{"datum":"2025-11-08","kontrakt":"2029","preis":25.85},{"datum":"2025-11-12","kontrakt":"2029","preis":25.05},{"datum":"2025-11-16","kontrakt":"2029","preis":25.55},{"datum":"2025-11-19","kontrakt":"2029","preis":24.85},{"datum":"2025-11-23","kontrakt":"2029","preis":24.9},{"datum":"2025-11-25","kontrakt":"2029","preis":24.65},
    {"datum":"2025-12-01","kontrakt":"2029","preis":24.5},{"datum":"2025-12-03","kontrakt":"2029","preis":24.0},{"datum":"2025-12-08","kontrakt":"2029","preis":24.45},{"datum":"2025-12-10","kontrakt":"2029","preis":23.95},{"datum":"2025-12-11","kontrakt":"2029","preis":24.35},{"datum":"2025-12-15","kontrakt":"2029","preis":24.1},{"datum":"2025-12-16","kontrakt":"2029","preis":23.85},{"datum":"2025-12-19","kontrakt":"2029","preis":24.5},{"datum":"2025-12-21","kontrakt":"2029","preis":24.2},{"datum":"2025-12-28","kontrakt":"2029","preis":24.5},
    {"datum":"2026-01-01","kontrakt":"2029","preis":24.6},{"datum":"2026-01-04","kontrakt":"2029","preis":24.05},{"datum":"2026-01-06","kontrakt":"2029","preis":24.5},{"datum":"2026-01-08","kontrakt":"2029","preis":24.2},{"datum":"2026-01-13","kontrakt":"2029","preis":24.6},{"datum":"2026-01-15","kontrakt":"2029","preis":23.95},{"datum":"2026-01-19","kontrakt":"2029","preis":24.3},{"datum":"2026-01-21","kontrakt":"2029","preis":23.95},{"datum":"2026-01-26","kontrakt":"2029","preis":23.85},
    {"datum":"2026-02-01","kontrakt":"2029","preis":24.0},{"datum":"2026-02-03","kontrakt":"2029","preis":23.6},{"datum":"2026-02-06","kontrakt":"2029","preis":23.95},{"datum":"2026-02-11","kontrakt":"2029","preis":23.5},{"datum":"2026-02-13","kontrakt":"2029","preis":22.9},{"datum":"2026-02-16","kontrakt":"2029","preis":22.9},{"datum":"2026-02-18","kontrakt":"2029","preis":23.6},{"datum":"2026-02-19","kontrakt":"2029","preis":23.3},{"datum":"2026-02-20","kontrakt":"2029","preis":24.0},{"datum":"2026-02-24","kontrakt":"2029","preis":23.05},{"datum":"2026-02-28","kontrakt":"2029","preis":23.3},
    {"datum":"2026-03-03","kontrakt":"2029","preis":23.7},{"datum":"2026-03-06","kontrakt":"2029","preis":24.3},{"datum":"2026-03-08","kontrakt":"2029","preis":24.7},{"datum":"2026-03-12","kontrakt":"2029","preis":25.25},{"datum":"2026-03-14","kontrakt":"2029","preis":25.35},{"datum":"2026-03-17","kontrakt":"2029","preis":24.95},{"datum":"2026-03-18","kontrakt":"2029","preis":26.6},{"datum":"2026-03-22","kontrakt":"2029","preis":26.9},{"datum":"2026-03-24","kontrakt":"2029","preis":26.6},{"datum":"2026-03-26","kontrakt":"2029","preis":27.05},{"datum":"2026-03-29","kontrakt":"2029","preis":27.1},{"datum":"2026-03-31","kontrakt":"2029","preis":26.1},
    {"datum":"2026-04-02","kontrakt":"2029","preis":26.7},{"datum":"2026-04-07","kontrakt":"2029","preis":27.05},{"datum":"2026-04-09","kontrakt":"2029","preis":26.25},{"datum":"2026-04-13","kontrakt":"2029","preis":26.1},{"datum":"2026-04-15","kontrakt":"2029","preis":25.8},{"datum":"2026-04-17","kontrakt":"2029","preis":25.5},{"datum":"2026-04-21","kontrakt":"2029","preis":26.0},{"datum":"2026-04-24","kontrakt":"2029","preis":26.3},{"datum":"2026-04-28","kontrakt":"2029","preis":25.6},
    {"datum":"2026-05-03","kontrakt":"2029","preis":26.2},{"datum":"2026-05-06","kontrakt":"2029","preis":25.6},{"datum":"2026-05-10","kontrakt":"2029","preis":25.5},{"datum":"2026-05-12","kontrakt":"2029","preis":26.1},{"datum":"2026-05-14","kontrakt":"2029","preis":25.45},{"datum":"2026-05-17","kontrakt":"2029","preis":26.0},{"datum":"2026-05-21","kontrakt":"2029","preis":26.0},{"datum":"2026-05-26","kontrakt":"2029","preis":26.05},{"datum":"2026-05-29","kontrakt":"2029","preis":26.55},{"datum":"2026-05-31","kontrakt":"2029","preis":26.1},
    {"datum":"2026-06-02","kontrakt":"2029","preis":26.45},{"datum":"2026-06-04","kontrakt":"2029","preis":26.4},{"datum":"2026-06-07","kontrakt":"2029","preis":25.5},{"datum":"2026-06-10","kontrakt":"2029","preis":26.0},{"datum":"2026-06-14","kontrakt":"2029","preis":25.35},{"datum":"2026-06-18","kontrakt":"2029","preis":25.8},{"datum":"2026-06-21","kontrakt":"2029","preis":25.95},{"datum":"2026-06-24","kontrakt":"2029","preis":25.55},{"datum":"2026-06-27","kontrakt":"2029","preis":25.45},
    {"datum":"2026-07-03","kontrakt":"2029","preis":25.7},{"datum":"2026-07-08","kontrakt":"2029","preis":26.0},{"datum":"2026-07-11","kontrakt":"2029","preis":25.65},{"datum":"2026-07-14","kontrakt":"2029","preis":25.8},{"datum":"2026-07-16","kontrakt":"2029","preis":26.6},{"datum":"2026-07-19","kontrakt":"2029","preis":26.4},{"datum":"2026-07-21","kontrakt":"2029","preis":25.9},{"datum":"2026-07-24","kontrakt":"2029","preis":27.85},{"datum":"2026-07-28","kontrakt":"2029","preis":27.5},{"datum":"2026-07-29","kontrakt":"2029","preis":27.6},{"datum":"2026-07-30","kontrakt":"2029","preis":26.8},
    {"datum":"2026-08-01","kontrakt":"2029","preis":27.35},{"datum":"2026-08-05","kontrakt":"2029","preis":26.55},{"datum":"2026-08-09","kontrakt":"2029","preis":27.2},{"datum":"2026-08-11","kontrakt":"2029","preis":27.05},{"datum":"2026-08-12","kontrakt":"2029","preis":27.6},{"datum":"2026-08-14","kontrakt":"2029","preis":27.6}
  ]},
  "layer": [
    {
      "mark": {"type": "line", "opacity": 0},
      "encoding": {
        "x": {"field": "datum", "type": "temporal", "scale": {"type": "utc", "domain": [{"year": 2025, "month": 1, "date": 1, "utc": true}, {"year": 2026, "month": 9, "date": 1, "utc": true}]}},
        "y": {"field": "preis", "type": "quantitative", "scale": {"domain": [0, 50], "nice": false},
          "axis": {"orient": "right", "values": [1,2,3,4,6,7,8,9,11,12,13,14,16,17,18,19,21,22,23,24,26,27,28,29,31,32,33,34,36,37,38,39,41,42,43,44,46,47,48,49], "grid": true, "gridColor": "#c2c2c2", "gridDash": [3, 2], "gridWidth": 1.5, "labels": false, "ticks": false, "domain": false, "title": null}},
        "detail": {"field": "kontrakt"}
      }
    },
    {
      "mark": {"type": "line", "strokeWidth": 6, "strokeJoin": "round", "strokeCap": "round"},
      "encoding": {
        "x": {"field": "datum", "type": "temporal", "scale": {"type": "utc", "domain": [{"year": 2025, "month": 1, "date": 1, "utc": true}, {"year": 2026, "month": 9, "date": 1, "utc": true}]},
          "axis": {"tickCount": {"interval": "month", "step": 1}, "labelExpr": "utcyear(datum.value) == 2026 && utcmonth(datum.value) == 8 ? '' : ['Jan','Feb','Mrz','Apr','Mai','Jun','Jul','Aug','Sep','Okt','Nov','Dez'][utcmonth(datum.value)] + ' ' + utcFormat(datum.value, '%y')", "labelAngle": -45, "labelAlign": "right", "labelBaseline": "top", "labelFontSize": 40, "labelColor": "black", "labelPadding": 16, "labelOffset": 4, "labelOverlap": false, "labelFlush": false, "labelBound": false, "tickSize": 14, "tickColor": "black", "tickWidth": 1.5, "grid": true, "gridColor": "black", "gridWidth": 1.5, "domain": false, "title": null}},
        "y": {"field": "preis", "type": "quantitative", "scale": {"domain": [0, 50], "nice": false},
          "axis": {"orient": "left", "values": [0,5,10,15,20,25,30,35,40,45,50], "grid": true, "gridColor": "black", "gridWidth": 1.5, "domain": false, "tickSize": 12, "tickColor": "black", "tickWidth": 1.5, "labelFontSize": 40, "labelColor": "black", "labelPadding": 28, "title": "€/MWh", "titleFontSize": 40, "titleFontWeight": "bold", "titleColor": "black", "titleAngle": 270, "titleX": -129, "titleY": 513, "titleBaseline": "alphabetic", "titleAlign": "center"}},
        "color": {"field": "kontrakt", "type": "nominal", "scale": {"domain": ["2027", "2028", "2029"], "range": ["#000066", "#006600", "#cc0000"]},
          "legend": {"orient": "none", "legendX": 1451, "legendY": 690, "title": null, "labelExpr": "'Marktgebiet THE\u00a0 Cal ' + datum.label", "labelFontSize": 43, "labelColor": "black", "labelLimit": 1000, "symbolType": "M-1,0H2.14", "symbolSize": 1764, "symbolStrokeWidth": 6, "labelOffset": 60, "rowPadding": 22.5, "padding": 11, "strokeColor": "black", "fillColor": "#f2f2f2"}}
      }
    }
  ],
  "resolve": {"axis": {"y": "independent"}},
  "config": {
    "font": "Liberation Sans",
    "view": {"stroke": "black", "strokeWidth": 4, "fill": "#f2f2f2"},
    "legend": {"strokeWidth": 3}
  }
}
